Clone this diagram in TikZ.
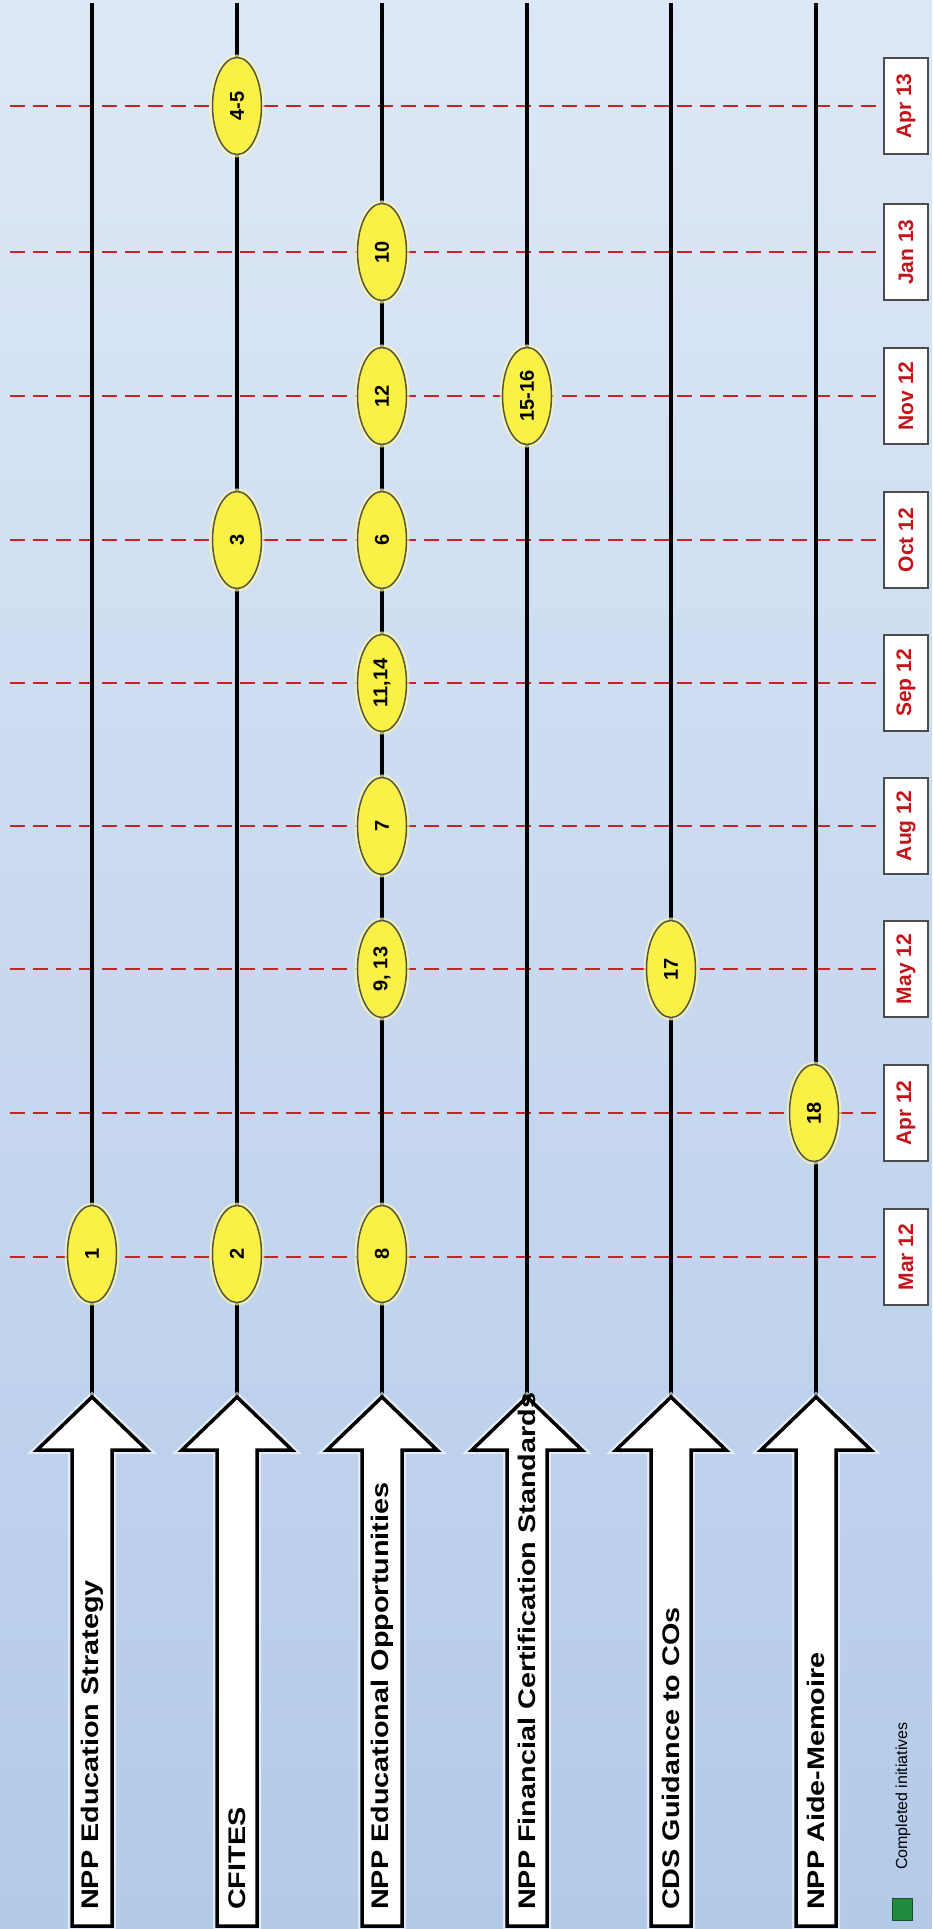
\documentclass[tikz,border=0pt]{standalone}
\usepackage{fontspec}
\setmainfont{Liberation Sans}
\usetikzlibrary{shapes.geometric}
\definecolor{bgtop}{RGB}{221,232,246}
\definecolor{bgbot}{RGB}{180,202,233}
\definecolor{dashred}{RGB}{200,35,40}
\definecolor{evfill}{RGB}{250,240,70}
\definecolor{evglow}{RGB}{250,248,170}
\definecolor{evedge}{RGB}{85,85,70}
\definecolor{monred}{RGB}{195,20,25}
\definecolor{legendgreen}{RGB}{30,140,60}
\tikzset{
 timeline/.style={line width=3.5pt, black},
 monthline/.style={dashred, line width=2pt, dash pattern=on 15pt off 8pt},
 event/.style={ellipse, draw=evedge, line width=1.5pt, fill=evfill, minimum width=97pt, minimum height=49pt, inner sep=0pt, rotate=90, font=\fontsize{20}{20}\selectfont\bfseries, preaction={draw=evglow, line width=6pt, opacity=0.7}},
 monthbox/.style={draw=black!70, line width=1.2pt, fill=white, minimum width=96pt, minimum height=44pt, rotate=90, inner sep=0pt, text=monred, font=\fontsize{21}{21}\selectfont\bfseries},
 bigarrow/.style={draw=black, line width=3.5pt, fill=white, line join=miter, preaction={draw=white, line width=8pt, opacity=0.6}},
 arrowlabel/.style={rotate=90, anchor=west, font=\fontsize{24}{24}\selectfont\bfseries, inner sep=0pt},
}
\begin{document}
\begin{tikzpicture}[x=1pt,y=-1pt]
\shade[top color=bgtop, bottom color=bgbot] (0,0) rectangle (932,1929);
\useasboundingbox (0,0) rectangle (932,1929);

% month boxes
\node[monthbox] (m1) at (906,1257) {Mar 12};
\node[monthbox] (m2) at (906,1113) {Apr 12};
\node[monthbox] (m3) at (906,969) {May 12};
\node[monthbox] (m4) at (906,826) {Aug 12};
\node[monthbox] (m5) at (906,683) {Sep 12};
\node[monthbox] (m6) at (906,540) {Oct 12};
\node[monthbox] (m7) at (906,396) {Nov 12};
\node[monthbox] (m8) at (906,252) {Jan 13};
\node[monthbox] (m9) at (906,106) {Apr 13};

% dashed month lines
\foreach \i/\y in {1/1257,2/1113,3/969,4/826,5/683,6/540,7/396,8/252,9/106}{
  \coordinate (d\i) at (10,\y);
  \draw[monthline] (d\i) -- (m\i.north);
}

% timelines and arrows
\foreach \i/\x in {1/92,2/237,3/382,4/527,5/671,6/816}{
  \coordinate (t\i) at (\x,3);
  \coordinate (a\i) at (\x,1397);
  \draw[timeline] (t\i) -- (a\i);
  \draw[bigarrow] (a\i) -- (\x+55,1450) -- (\x+20,1450) -- (\x+20,1926) -- (\x-20,1926) -- (\x-20,1450) -- (\x-55,1450) -- cycle;
}

% labels
\node[arrowlabel] (l1) at (92,1910) {\scalebox{1.2}[1]{NPP Education Strategy}};
\node[arrowlabel] (l2) at (237,1910) {\scalebox{1.2}[1]{CFITES}};
\node[arrowlabel] (l3) at (382,1910) {\scalebox{1.2}[1]{NPP Educational Opportunities}};
\node[arrowlabel] (l4) at (527,1910) {\scalebox{1.2}[1]{NPP Financial Certification Standards}};
\node[arrowlabel] (l5) at (671,1910) {\scalebox{1.2}[1]{CDS Guidance to COs}};
\node[arrowlabel] (l6) at (816,1910) {\scalebox{1.2}[1]{NPP Aide-Memoire}};

% events
\node[event] (e1) at (92,1254) {1};
\node[event] (e2) at (237,1254) {2};
\node[event] (e3) at (237,540) {3};
\node[event] (e45) at (237,106) {4-5};
\node[event] (e8) at (382,1254) {8};
\node[event] (e913) at (382,969) {9, 13};
\node[event] (e7) at (382,826) {7};
\node[event] (e1114) at (382,683) {11,14};
\node[event] (e6) at (382,540) {6};
\node[event] (e12) at (382,396) {12};
\node[event] (e10) at (382,252) {10};
\node[event] (e1516) at (527,396) {15-16};
\node[event] (e17) at (671,969) {17};
\node[event] (e18) at (814,1113) {18};

% legend
\node[draw=legendgreen!60!black, fill=legendgreen, minimum width=20pt, minimum height=22pt, inner sep=0pt] (lg) at (902,1909) {};
\node[rotate=90, anchor=west, inner sep=0pt, font=\fontsize{16}{16}\selectfont] (lgt) at (903,1870) {Completed initiatives};
\end{tikzpicture}
\end{document}
